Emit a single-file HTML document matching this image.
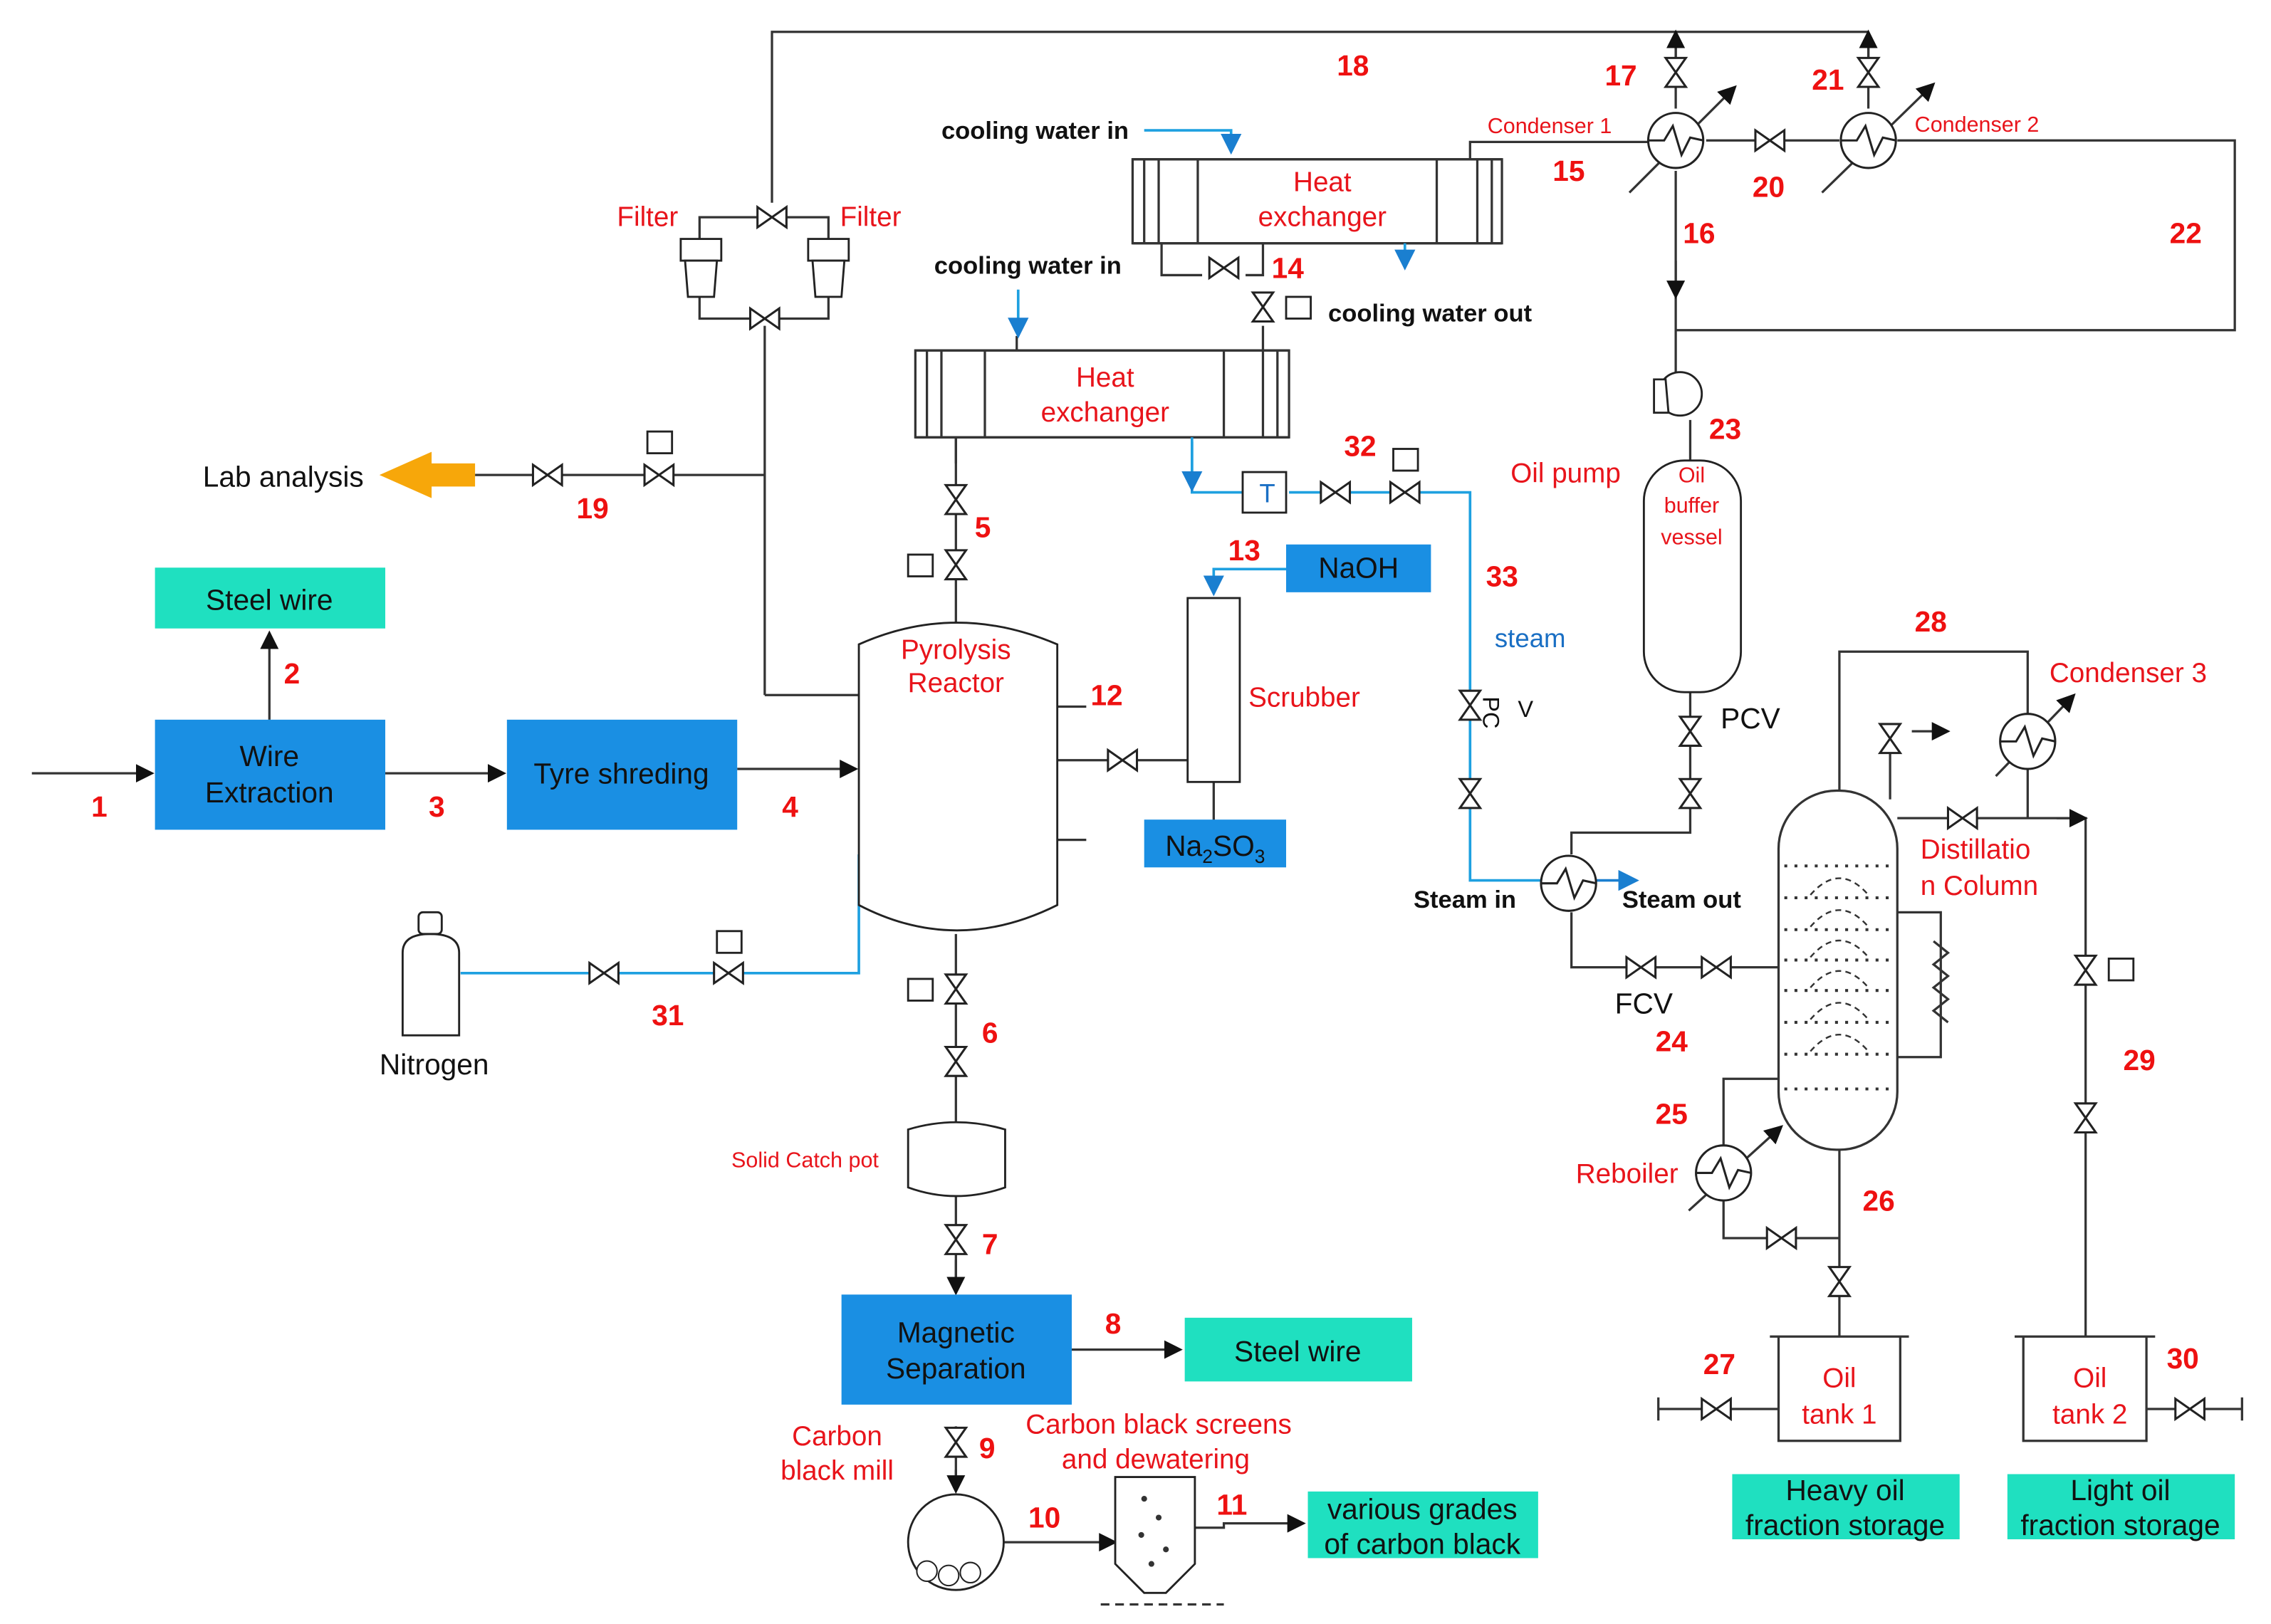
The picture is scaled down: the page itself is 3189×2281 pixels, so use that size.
<!DOCTYPE html>
<html><head><meta charset="utf-8"><style>
html,body{margin:0;padding:0;background:#fff}
svg{display:block}
text{font-family:"Liberation Sans",Arial,sans-serif}
.r{fill:#e8141b}
.n{fill:#ee1111;font-weight:bold;font-size:20px}
.k{fill:#111}
.b{fill:#1a6fc4}
</style></head><body>
<svg width="3189" height="2281" viewBox="0 0 1568 1121.5" preserveAspectRatio="none" xmlns="http://www.w3.org/2000/svg">
<defs>
<g id="vh"><path d="M-10,-7 L10,7 L10,-7 L-10,7 Z" fill="#fff" stroke="#222" stroke-width="1.5"/></g>
<g id="vv"><path d="M-7,-10 L7,10 L-7,10 L7,-10 Z" fill="#fff" stroke="#222" stroke-width="1.5"/></g>
<marker id="ar" markerWidth="8" markerHeight="8" refX="7" refY="4" orient="auto"><path d="M0,0 L8,4 L0,8 Z" fill="#111"/></marker>
<marker id="ab" markerWidth="8" markerHeight="8" refX="7" refY="4" orient="auto"><path d="M0,0 L8,4 L0,8 Z" fill="#1a7fd0"/></marker>
<g id="hx"><circle r="19" fill="#fff" stroke="#222" stroke-width="1.5"/><path d="M-19,0 L-8,0 L-2,-10 L4,10 L10,-2 L19,0" fill="none" stroke="#222" stroke-width="1.5"/></g>
</defs>
<g fill="none" stroke="#333" stroke-width="1.6">
<path d="M528,480 L528,225 M533,140 L533,22 L1290,22"/>
<path d="M1157,22 L1157,75 M1290,22 L1290,75" />
<path d="M1157,40 L1157,22" marker-end="url(#ar)"/>
<path d="M1290,40 L1290,22" marker-end="url(#ar)"/>
<path d="M483,185 L483,150 L572,150 L572,185 M483,205 L483,220 L572,220 L572,205"/>
<path d="M328,328 L528,328"/>
<path d="M528,480 L593,480"/>
<path d="M22,534 L105,534" marker-end="url(#ar)"/>
<path d="M266,534 L348,534" marker-end="url(#ar)"/>
<path d="M509,531 L591,531" marker-end="url(#ar)"/>
<path d="M186,497 L186,437" marker-end="url(#ar)"/>
<path d="M660,300 L660,430 M660,645 L660,775 M660,825 L660,893" />
<path d="M660,870 L660,893" marker-end="url(#ar)"/>
<path d="M660,985 L660,1030"/>
<path d="M660,1015 L660,1030" marker-end="url(#ar)"/>
<path d="M740,932 L815,932" marker-end="url(#ar)"/>
<path d="M693,1065 L770,1065" marker-end="url(#ar)"/>
<path d="M825,1055 L845,1055 L845,1052 L900,1052" marker-end="url(#ar)"/>
<path d="M760,1108 L845,1108" stroke-dasharray="6,4"/>
<path d="M730,525 L820,525 M838,540 L838,570"/>
<path d="M710,490 L710,580 M730,488 L750,488 M730,580 L750,580"/>
<path d="M700,505 L715,512 L700,520 L715,528 L700,536 L715,544 L700,552 L715,560" />
<rect x="782" y="110" width="255" height="58" fill="#fff"/>
<path d="M782,110 L1037,110 M782,168 L1037,168 M827,110 L827,168 M992,110 L992,168 M790,110 L790,168 M1030,110 L1030,168 M800,110 L800,168 M1020,110 L1020,168"/>
<path d="M1015,110 L1015,98 L1138,98"/>
<path d="M802,168 L802,190 L830,190 M860,190 L872,190 L872,168"/>
<rect x="632" y="242" width="258" height="60" fill="#fff"/>
<path d="M632,242 L890,242 M632,302 L890,302 M680,242 L680,302 M845,242 L845,302 M640,242 L640,302 M882,242 L882,302 M650,242 L650,302 M872,242 L872,302"/>
<path d="M872,242 L872,225 M702,232 L702,242 M660,302 L660,320"/>
<path d="M1157,118 L1157,228 L1543,228 L1543,97 L1310,97 M1178,97 L1270,97"/>
<path d="M1157,180 L1157,205" marker-end="url(#ar)"/>
<path d="M1157,228 L1157,262"/>
<path d="M1167,290 L1167,318 M1167,478 L1167,575 L1085,575 L1085,590 M1085,630 L1085,668 L1228,668"/>
<rect x="1228" y="546" width="82" height="248" rx="40" fill="#fff"/>
<path d="M1270,546 L1270,450 L1400,450 L1400,493 M1400,531 L1400,565 M1310,565 L1440,565 L1440,923 M1305,520 L1305,552 M1310,630 L1340,630 L1340,730 L1310,730"/>
<path d="M1420,565 L1440,565" marker-end="url(#ar)"/>
<path d="M1320,505 L1345,505" marker-end="url(#ar)"/>
<path d="M1335,650 L1345,658 L1335,666 L1345,674 L1335,682 L1345,690 L1335,698 L1345,706" />
<path d="M1228,745 L1190,745 L1190,791 M1190,829 L1190,855 L1270,855 M1270,794 L1270,923"/>
<path d="M1145,973 L1228,973 M1145,965 L1145,981 M1482,973 L1548,973 M1548,965 L1548,981"/>
<!-- diagonal condenser arrows -->
<path d="M1125,133 L1198,60" marker-end="url(#ar)"/>
<path d="M1258,133 L1335,58" marker-end="url(#ar)"/>
<path d="M1378,536 L1432,480" marker-end="url(#ar)"/>
<path d="M1166,836 L1230,778" marker-end="url(#ar)"/>
<path d="M1228,923 L1228,995 L1312,995 L1312,923 M1222,923 L1318,923 M1397,923 L1397,995 L1482,995 L1482,923 M1391,923 L1488,923"/>
</g>
<g fill="none" stroke="#1ea0e0" stroke-width="1.8">
<path d="M318,672 L593,672 L593,590"/>
<path d="M823,302 L823,340 L858,340 M890,340 L1015,340 L1015,608 L1064,608"/>
<path d="M1102,608 L1130,608" stroke="#1a7fd0" marker-end="url(#ab)"/>
<path d="M790,90 L850,90 L850,105" marker-end="url(#ab)"/>
<path d="M970,168 L970,185" marker-end="url(#ab)"/>
<path d="M703,200 L703,232" marker-end="url(#ab)"/>
<path d="M823,305 L823,338" marker-end="url(#ab)"/>
<path d="M888,393 L838,393 L838,410" marker-end="url(#ab)"/>
</g>
<use href="#vh" x="533" y="150"/><use href="#vh" x="528" y="220"/>
<use href="#vh" x="378" y="328"/><use href="#vh" x="455" y="328"/>
<use href="#vv" x="660" y="345"/><use href="#vv" x="660" y="390"/>
<use href="#vv" x="660" y="683"/><use href="#vv" x="660" y="733"/><use href="#vv" x="660" y="856"/><use href="#vv" x="660" y="996"/>
<use href="#vh" x="775" y="525"/>
<use href="#vh" x="417" y="672"/><use href="#vh" x="503" y="672"/>
<use href="#vh" x="845" y="185"/><use href="#vv" x="872" y="212"/>
<use href="#vh" x="922" y="340"/><use href="#vh" x="970" y="340"/>
<use href="#vv" x="1015" y="487"/><use href="#vv" x="1015" y="548"/>
<use href="#vv" x="1157" y="50"/><use href="#vv" x="1290" y="50"/>
<use href="#vh" x="1222" y="97"/>
<use href="#vv" x="1167" y="505"/><use href="#vv" x="1167" y="548"/>
<use href="#vh" x="1133" y="668"/><use href="#vh" x="1185" y="668"/>
<use href="#vh" x="1355" y="565"/><use href="#vv" x="1305" y="510"/>
<use href="#vv" x="1440" y="670"/><use href="#vv" x="1440" y="772"/>
<use href="#vh" x="1230" y="855"/><use href="#vv" x="1270" y="885"/>
<use href="#vh" x="1185" y="973"/><use href="#vh" x="1512" y="973"/>
<g fill="#fff" stroke="#222" stroke-width="1.4">
<rect x="447" y="298" width="17" height="15"/><rect x="962" y="310" width="17" height="15"/>
<rect x="627" y="383" width="17" height="15"/><rect x="627" y="676" width="17" height="15"/>
<rect x="888" y="205" width="17" height="15"/><rect x="1456" y="662" width="17" height="15"/>
<rect x="495" y="643" width="17" height="15"/>
<rect x="858" y="326" width="30" height="28"/>
<rect x="470" y="165" width="28" height="15"/><path d="M473,180 L495,180 L493,205 L475,205 Z"/>
<rect x="558" y="165" width="28" height="15"/><path d="M561,180 L583,180 L581,205 L563,205 Z"/>
<path d="M593,445 Q660,415 730,445 L730,625 Q660,660 593,625 Z"/>
<rect x="820" y="413" width="36" height="127"/>
<path d="M627,780 Q660,770 694,780 L694,820 Q660,832 627,820 Z"/>
<path d="M278,658 Q278,645 297,645 Q317,645 317,658 L317,715 L278,715 Z"/><rect x="289" y="630" width="16" height="15" rx="3"/>
<circle cx="660" cy="1065" r="33"/>
<path d="M770,1020 L825,1020 L825,1080 L805,1100 L790,1100 L770,1080 Z"/>
<rect x="1135" y="318" width="67" height="160" rx="28"/>
<circle cx="1160" cy="272" r="15"/><path d="M1142,262 L1150,262 L1152,285 L1142,285 Z"/>
</g>
<use href="#hx" x="1157" y="97"/><use href="#hx" x="1290" y="97"/>
<use href="#hx" x="1083" y="610"/><use href="#hx" x="1400" y="512"/><use href="#hx" x="1190" y="810"/>
<g fill="#fff" stroke="#222"><circle cx="640" cy="1085" r="7"/><circle cx="655" cy="1088" r="7"/><circle cx="670" cy="1086" r="7"/></g>
<g fill="#333"><circle cx="790" cy="1035" r="2"/><circle cx="800" cy="1048" r="2"/><circle cx="788" cy="1060" r="2"/><circle cx="805" cy="1070" r="2"/><circle cx="795" cy="1080" r="2"/></g>
<g stroke="#333" stroke-width="2" stroke-dasharray="2,5" fill="none">
<path d="M1232,598 H1306 M1232,620 H1306 M1232,642 H1306 M1232,663 H1306 M1232,684 H1306 M1232,706 H1306 M1232,728 H1306 M1232,752 H1306"/>
<path d="M1250,618 Q1270,595 1290,618 M1250,640 Q1270,617 1290,640 M1250,661 Q1270,638 1290,661 M1250,682 Q1270,659 1290,682 M1250,704 Q1270,681 1290,704 M1250,726 Q1270,703 1290,726" stroke-dasharray="4,3" stroke-width="1.2"/>
</g>
<path d="M262,328 L298,312 L298,320 L328,320 L328,336 L298,336 L298,344 Z" fill="#f7a70a"/>
<rect x="107" y="392" width="159" height="42" fill="#1fe0c0"/>
<rect x="107" y="497" width="159" height="76" fill="#1a8fe3"/>
<rect x="350" y="497" width="159" height="76" fill="#1a8fe3"/>
<rect x="888" y="376" width="100" height="33" fill="#1a8fe3"/>
<rect x="790" y="566" width="98" height="33" fill="#1a8fe3"/>
<rect x="581" y="894" width="159" height="76" fill="#1a8fe3"/>
<rect x="818" y="910" width="157" height="44" fill="#1fe0c0"/>
<rect x="903" y="1030" width="159" height="46" fill="#1fe0c0"/>
<rect x="1196" y="1018" width="157" height="45" fill="#1fe0c0"/>
<rect x="1386" y="1018" width="157" height="45" fill="#1fe0c0"/>
<g font-size="20" class="k">
<text x="186" y="421" text-anchor="middle">Steel wire</text>
<text x="186" y="529" text-anchor="middle">Wire</text><text x="186" y="554" text-anchor="middle">Extraction</text>
<text x="429" y="541" text-anchor="middle">Tyre shreding</text>
<text x="938" y="399" text-anchor="middle">NaOH</text>
<text x="839" y="591" text-anchor="middle">Na<tspan font-size="13" dy="5">2</tspan><tspan dy="-5">SO</tspan><tspan font-size="13" dy="5">3</tspan></text>
<text x="660" y="927" text-anchor="middle">Magnetic</text><text x="660" y="952" text-anchor="middle">Separation</text>
<text x="896" y="940" text-anchor="middle">Steel wire</text>
<text x="982" y="1049" text-anchor="middle">various grades</text><text x="982" y="1073" text-anchor="middle">of carbon black</text>
<text x="1274" y="1036" text-anchor="middle">Heavy oil</text><text x="1274" y="1060" text-anchor="middle">fraction storage</text>
<text x="1464" y="1036" text-anchor="middle">Light oil</text><text x="1464" y="1060" text-anchor="middle">fraction storage</text>
<text x="140" y="336">Lab analysis</text>
<text x="262" y="742">Nitrogen</text>
<text x="875" y="347" font-size="18" text-anchor="middle" fill="#1a6fc4">T</text>
<text x="1188" y="503">PCV</text>
<text x="1115" y="700">FCV</text>
<text x="1024" y="493" font-size="16" transform="rotate(90 1030 487)">PC</text>
<text x="1048" y="495" font-size="16">V</text>
</g>
<g font-size="17" font-weight="bold" class="k">
<text x="650" y="96">cooling water in</text>
<text x="645" y="189">cooling water in</text>
<text x="917" y="222">cooling water out</text>
<text x="976" y="627">Steam in</text>
<text x="1120" y="627">Steam out</text>
</g>
<text x="1032" y="447" font-size="18" class="b">steam</text>
<g font-size="19" class="r">
<text x="426" y="156">Filter</text><text x="580" y="156">Filter</text>
<text x="660" y="455" text-anchor="middle">Pyrolysis</text><text x="660" y="478" text-anchor="middle">Reactor</text>
<text x="862" y="488">Scrubber</text>
<text x="913" y="132" text-anchor="middle">Heat</text><text x="913" y="156" text-anchor="middle">exchanger</text>
<text x="763" y="267" text-anchor="middle">Heat</text><text x="763" y="291" text-anchor="middle">exchanger</text>
<text x="1043" y="333">Oil pump</text>
<text x="1415" y="471">Condenser 3</text>
<text x="1326" y="593">Distillatio</text><text x="1326" y="618">n Column</text>
<text x="1088" y="817">Reboiler</text>
<text x="578" y="998" text-anchor="middle">Carbon</text><text x="578" y="1022" text-anchor="middle">black mill</text>
<text x="800" y="990" text-anchor="middle">Carbon black screens</text><text x="798" y="1014" text-anchor="middle">and dewatering</text>
<text x="1270" y="958" text-anchor="middle">Oil</text><text x="1270" y="983" text-anchor="middle">tank 1</text>
<text x="1443" y="958" text-anchor="middle">Oil</text><text x="1443" y="983" text-anchor="middle">tank 2</text>
</g>
<g font-size="15" class="r">
<text x="1027" y="92">Condenser 1</text><text x="1322" y="91">Condenser 2</text>
<text x="505" y="806">Solid Catch pot</text>
<text x="1168" y="333" text-anchor="middle">Oil</text><text x="1168" y="354" text-anchor="middle">buffer</text><text x="1168" y="376" text-anchor="middle">vessel</text>
</g>
<g class="n">
<text x="63" y="564">1</text><text x="196" y="472">2</text><text x="296" y="564">3</text><text x="540" y="564">4</text>
<text x="673" y="371">5</text><text x="678" y="720">6</text><text x="678" y="866">7</text><text x="763" y="921">8</text>
<text x="676" y="1007">9</text><text x="710" y="1055">10</text><text x="840" y="1046">11</text><text x="753" y="487">12</text>
<text x="848" y="387">13</text><text x="878" y="192">14</text><text x="1072" y="125">15</text><text x="1162" y="168">16</text>
<text x="1108" y="59">17</text><text x="923" y="52">18</text><text x="398" y="358">19</text><text x="1210" y="136">20</text>
<text x="1251" y="62">21</text><text x="1498" y="168">22</text><text x="1180" y="303">23</text><text x="1143" y="726">24</text>
<text x="1143" y="776">25</text><text x="1286" y="836">26</text><text x="1176" y="949">27</text><text x="1322" y="436">28</text>
<text x="1466" y="739">29</text><text x="1496" y="945">30</text><text x="450" y="708">31</text><text x="928" y="315">32</text>
<text x="1026" y="405">33</text>
</g>
</svg>
</body></html>
